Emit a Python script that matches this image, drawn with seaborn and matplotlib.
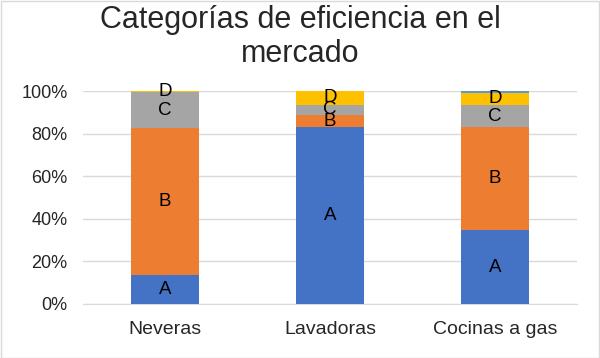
import numpy as np
import pandas as pd
import matplotlib.pyplot as plt
import seaborn as sns
from matplotlib.patches import Rectangle

# Data (shares per category, in %)
categories = ['Neveras', 'Lavadoras', 'Cocinas a gas']
series = ['A', 'B', 'C', 'D', 'E']
a_vals = [13.6, 83.0, 34.7]
b_vals = [69.0, 6.0, 48.6]
c_vals = [17.1, 4.7, 10.1]
d_vals = [0.3, 6.3, 6.0]
e_vals = [0.0, 0.0, 0.6]
colors = ['#4472C4', '#ED7D31', '#A5A5A5', '#FFC000', '#5B9BD5']

values = [a_vals, b_vals, c_vals, d_vals, e_vals]

sns.set_style('white')
plt.rcParams['font.family'] = ['Liberation Sans', 'DejaVu Sans']

fig, ax = plt.subplots(figsize=(6, 3.58), dpi=100)
fig.subplots_adjust(left=0.138, right=0.962, top=0.745, bottom=0.151)

bottom = np.zeros(len(categories))
for name, vals, col in zip(series, values, colors):
    df = pd.DataFrame({'cat': categories, 'val': vals})
    sns.barplot(data=df, x='cat', y='val', color=col, bottom=bottom,
                width=0.41, ax=ax, zorder=3, saturation=1, linewidth=0)
    if name != 'E':
        for i, v in enumerate(vals):
            if v > 0:
                ax.text(i, bottom[i] + v / 2, name, ha='center', va='center',
                        fontsize=13.5, color='black', zorder=5)
    bottom = bottom + np.array(vals)

ax.set_ylim(0, 100)
ax.set_xlim(-0.5, 2.5)
ax.set_yticks(range(0, 101, 20))
ax.set_yticklabels([f'{t}%' for t in range(0, 101, 20)], fontsize=13, color='#262626')
ax.tick_params(axis='x', labelsize=14, colors='#262626', length=0, pad=12)
ax.tick_params(axis='y', length=0, pad=11)
ax.set_xlabel('')
ax.set_ylabel('')
ax.yaxis.grid(True, color='#D9D9D9', linewidth=1, zorder=0)
for s in ['left', 'right', 'top']:
    ax.spines[s].set_visible(False)
ax.spines['bottom'].set_color('#D9D9D9')

fig.suptitle('Categorías de eficiencia en el\nmercado', fontsize=22, y=0.985,
             linespacing=1.15)

fig.patches.append(Rectangle((0.001, 0.001), 0.997, 0.996, transform=fig.transFigure,
                             fill=False, edgecolor='#D9D9D9', linewidth=1))

fig.savefig('out.png', dpi=100)
